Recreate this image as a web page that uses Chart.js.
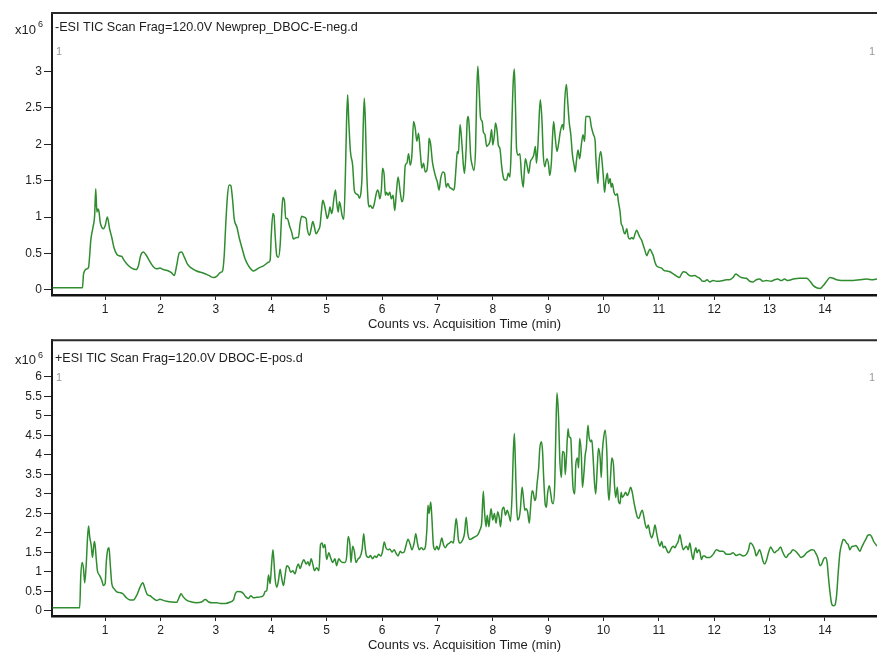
<!DOCTYPE html>
<html>
<head>
<meta charset="utf-8">
<script src="https://cdn.jsdelivr.net/npm/chart.js@4.4.1/dist/chart.umd.min.js"></script>
<style>
  html, body { margin: 0; padding: 0; background: #fff; overflow: hidden; }
  canvas { position: absolute; left: 0; display: block; }
  #neg { top: 0; }
  #pos { top: 331px; }
</style>
</head>
<body>
<canvas id="neg" width="877" height="331"></canvas>
<canvas id="pos" width="877" height="321"></canvas>
<script>
// Retention time (min) and TIC counts (x10^6) for the negative-mode run
const negTime = [
  0.05, 0.59, 0.61, 0.67, 0.70, 0.72, 0.74, 0.78, 0.81, 0.83, 0.85, 0.87, 0.89, 0.91, 0.94, 0.97,
  1.00, 1.04, 1.08, 1.12, 1.16, 1.21, 1.25, 1.30, 1.34, 1.40, 1.48, 1.56, 1.60, 1.64, 1.69, 1.74,
  1.80, 1.87, 1.93, 1.99, 2.05, 2.11, 2.19, 2.25, 2.29, 2.34, 2.38, 2.43, 2.49, 2.56, 2.65, 2.78,
  2.87, 2.96, 3.02, 3.08, 3.12, 3.15, 3.18, 3.21, 3.24, 3.27, 3.30, 3.33, 3.38, 3.42, 3.47, 3.53,
  3.59, 3.68, 3.77, 3.86, 3.95, 3.98, 4.00, 4.03, 4.05, 4.07, 4.10, 4.13, 4.16, 4.19, 4.21, 4.24,
  4.26, 4.29, 4.33, 4.37, 4.40, 4.46, 4.49, 4.52, 4.55, 4.59, 4.63, 4.65, 4.69, 4.72, 4.75, 4.78,
  4.81, 4.85, 4.88, 4.91, 4.93, 4.96, 4.99, 5.01, 5.04, 5.06, 5.09, 5.11, 5.13, 5.16, 5.18, 5.21,
  5.23, 5.25, 5.28, 5.31, 5.34, 5.36, 5.38, 5.40, 5.43, 5.47, 5.50, 5.53, 5.57, 5.59, 5.62, 5.64,
  5.66, 5.68, 5.70, 5.72, 5.75, 5.77, 5.79, 5.83, 5.86, 5.89, 5.92, 5.94, 5.96, 5.99, 6.01, 6.04,
  6.06, 6.08, 6.11, 6.14, 6.17, 6.20, 6.23, 6.26, 6.29, 6.33, 6.36, 6.39, 6.42, 6.45, 6.48, 6.51,
  6.54, 6.57, 6.60, 6.63, 6.66, 6.69, 6.72, 6.75, 6.78, 6.81, 6.84, 6.85, 6.88, 6.91, 6.94, 6.97,
  7.00, 7.03, 7.06, 7.10, 7.13, 7.16, 7.19, 7.22, 7.26, 7.29, 7.31, 7.34, 7.36, 7.38, 7.41, 7.44,
  7.47, 7.49, 7.52, 7.54, 7.56, 7.58, 7.60, 7.63, 7.66, 7.69, 7.71, 7.73, 7.75, 7.78, 7.81, 7.83,
  7.86, 7.89, 7.92, 7.95, 7.98, 8.00, 8.03, 8.05, 8.08, 8.10, 8.13, 8.16, 8.19, 8.22, 8.25, 8.28,
  8.31, 8.33, 8.35, 8.37, 8.39, 8.41, 8.43, 8.46, 8.49, 8.52, 8.55, 8.57, 8.59, 8.62, 8.65, 8.68,
  8.71, 8.74, 8.77, 8.79, 8.82, 8.84, 8.86, 8.89, 8.91, 8.94, 8.96, 8.98, 9.01, 9.03, 9.06, 9.08,
  9.10, 9.13, 9.16, 9.19, 9.22, 9.26, 9.28, 9.30, 9.33, 9.35, 9.38, 9.41, 9.44, 9.47, 9.49, 9.51,
  9.54, 9.57, 9.60, 9.63, 9.66, 9.68, 9.71, 9.73, 9.75, 9.78, 9.82, 9.85, 9.86, 9.88, 9.90, 9.92,
  9.95, 9.97, 10.00, 10.02, 10.04, 10.07, 10.09, 10.12, 10.14, 10.16, 10.19, 10.22, 10.25, 10.27, 10.30, 10.32,
  10.34, 10.37, 10.39, 10.42, 10.45, 10.48, 10.51, 10.54, 10.57, 10.60, 10.63, 10.66, 10.69, 10.72, 10.75, 10.78,
  10.81, 10.84, 10.87, 10.90, 10.93, 10.96, 11.01, 11.05, 11.09, 11.14, 11.20, 11.26, 11.32, 11.37, 11.41, 11.44,
  11.49, 11.53, 11.59, 11.65, 11.69, 11.74, 11.79, 11.83, 11.87, 11.92, 11.98, 12.04, 12.10, 12.16, 12.22, 12.28,
  12.34, 12.39, 12.43, 12.49, 12.58, 12.64, 12.70, 12.76, 12.82, 12.88, 12.94, 13.03, 13.09, 13.15, 13.21, 13.27,
  13.33, 13.43, 13.54, 13.67, 13.73, 13.79, 13.85, 13.91, 13.97, 14.03, 14.09, 14.15, 14.21, 14.30, 14.39, 14.51,
  14.63, 14.75, 14.87, 14.94
];
const negCounts = [
  0.03, 0.03, 0.22, 0.29, 0.31, 0.47, 0.68, 0.86, 1.02, 1.39, 1.07, 1.11, 1.07, 0.93, 0.86, 0.84,
  0.88, 1.00, 0.84, 0.72, 0.58, 0.49, 0.47, 0.46, 0.41, 0.35, 0.30, 0.28, 0.33, 0.47, 0.52, 0.48,
  0.40, 0.32, 0.29, 0.30, 0.28, 0.27, 0.24, 0.20, 0.33, 0.51, 0.52, 0.45, 0.35, 0.30, 0.26, 0.23,
  0.20, 0.17, 0.19, 0.24, 0.26, 0.47, 0.93, 1.30, 1.44, 1.43, 1.25, 0.98, 0.86, 0.72, 0.58, 0.42,
  0.33, 0.26, 0.30, 0.33, 0.38, 0.41, 0.75, 1.05, 1.02, 0.75, 0.47, 0.45, 0.61, 1.07, 1.27, 1.21,
  0.98, 0.98, 0.88, 0.79, 0.70, 0.72, 0.72, 0.91, 1.01, 1.00, 0.98, 0.84, 0.75, 0.84, 0.94, 0.86,
  0.77, 0.82, 0.88, 1.11, 1.23, 1.17, 1.05, 0.98, 1.05, 1.14, 1.05, 1.11, 1.25, 1.37, 1.21, 1.07,
  1.21, 1.16, 1.02, 0.97, 1.62, 2.31, 2.68, 2.31, 1.90, 1.71, 1.37, 1.32, 1.30, 1.26, 1.34, 1.57,
  2.22, 2.63, 2.31, 1.71, 1.21, 1.14, 1.16, 1.12, 1.18, 1.30, 1.37, 1.34, 1.25, 1.39, 1.67, 1.57,
  1.30, 1.34, 1.30, 1.34, 1.25, 1.30, 1.09, 1.34, 1.55, 1.34, 1.21, 1.30, 1.71, 1.74, 1.87, 1.71,
  1.85, 2.31, 2.22, 2.04, 2.15, 1.90, 1.67, 1.74, 1.62, 1.64, 1.90, 2.08, 1.99, 1.76, 1.64, 1.55,
  1.48, 1.37, 1.53, 1.62, 1.60, 1.41, 1.46, 1.41, 1.39, 1.37, 1.41, 1.71, 1.90, 1.87, 2.27, 2.04,
  1.71, 1.60, 1.94, 2.33, 2.38, 2.17, 1.85, 1.71, 1.64, 1.94, 2.68, 3.07, 2.82, 2.36, 2.31, 2.17,
  2.13, 1.97, 1.99, 2.04, 2.20, 1.99, 2.13, 2.29, 2.17, 1.99, 1.94, 1.71, 1.55, 1.51, 1.51, 1.60,
  1.55, 1.85, 2.40, 2.86, 3.03, 2.54, 1.94, 1.85, 1.87, 1.57, 1.41, 1.62, 1.80, 1.71, 1.60, 1.76,
  1.80, 1.85, 1.97, 1.74, 2.04, 2.40, 2.61, 2.31, 1.90, 1.69, 1.76, 1.80, 1.71, 1.57, 1.76, 2.10,
  2.31, 2.08, 1.90, 2.01, 2.17, 2.27, 2.20, 2.59, 2.82, 2.63, 2.31, 2.13, 1.85, 1.71, 1.62, 1.76,
  1.92, 1.80, 1.99, 2.13, 2.04, 2.38, 2.38, 2.38, 2.38, 2.24, 2.13, 2.04, 1.85, 1.62, 1.46, 1.76,
  1.90, 1.80, 1.53, 1.34, 1.48, 1.60, 1.46, 1.53, 1.41, 1.46, 1.34, 1.30, 1.32, 1.21, 1.07, 0.91,
  0.88, 0.79, 0.77, 0.84, 0.72, 0.70, 0.72, 0.70, 0.77, 0.82, 0.77, 0.72, 0.68, 0.61, 0.54, 0.47,
  0.52, 0.56, 0.52, 0.47, 0.38, 0.33, 0.31, 0.30, 0.27, 0.26, 0.25, 0.22, 0.19, 0.17, 0.22, 0.25,
  0.24, 0.21, 0.19, 0.20, 0.18, 0.16, 0.12, 0.12, 0.14, 0.11, 0.13, 0.12, 0.12, 0.13, 0.14, 0.14,
  0.17, 0.22, 0.20, 0.17, 0.16, 0.12, 0.11, 0.14, 0.15, 0.12, 0.13, 0.12, 0.14, 0.15, 0.13, 0.15,
  0.13, 0.15, 0.16, 0.16, 0.12, 0.06, 0.03, 0.02, 0.06, 0.12, 0.17, 0.16, 0.14, 0.13, 0.13, 0.13,
  0.14, 0.15, 0.14, 0.15
];

// Retention time (min) and TIC counts (x10^6) for the positive-mode run
const posTime = [
  0.05, 0.54, 0.56, 0.585, 0.61, 0.63, 0.66, 0.68, 0.70, 0.72, 0.75, 0.77, 0.80, 0.81, 0.84, 0.86,
  0.90, 0.94, 0.97, 1.00, 1.02, 1.05, 1.07, 1.09, 1.12, 1.16, 1.21, 1.27, 1.32, 1.38, 1.45, 1.51,
  1.57, 1.63, 1.68, 1.72, 1.76, 1.81, 1.87, 1.93, 1.99, 2.05, 2.11, 2.20, 2.29, 2.34, 2.37, 2.41,
  2.47, 2.56, 2.65, 2.74, 2.81, 2.87, 2.94, 3.02, 3.08, 3.17, 3.26, 3.32, 3.35, 3.39, 3.45, 3.50,
  3.54, 3.59, 3.63, 3.68, 3.74, 3.80, 3.86, 3.89, 3.92, 3.95, 3.98, 4.00, 4.03, 4.05, 4.07, 4.10,
  4.13, 4.16, 4.18, 4.22, 4.25, 4.28, 4.32, 4.35, 4.39, 4.43, 4.46, 4.49, 4.52, 4.56, 4.59, 4.63,
  4.66, 4.69, 4.72, 4.75, 4.78, 4.82, 4.86, 4.89, 4.92, 4.94, 4.97, 5.00, 5.04, 5.07, 5.11, 5.15,
  5.18, 5.22, 5.25, 5.29, 5.33, 5.36, 5.39, 5.42, 5.44, 5.47, 5.50, 5.53, 5.57, 5.60, 5.64, 5.67,
  5.69, 5.72, 5.76, 5.79, 5.83, 5.87, 5.90, 5.94, 5.98, 6.01, 6.04, 6.07, 6.11, 6.14, 6.18, 6.22,
  6.25, 6.29, 6.33, 6.36, 6.40, 6.43, 6.47, 6.51, 6.54, 6.58, 6.61, 6.64, 6.67, 6.71, 6.75, 6.78,
  6.81, 6.83, 6.85, 6.88, 6.90, 6.93, 6.96, 6.99, 7.02, 7.05, 7.08, 7.11, 7.14, 7.18, 7.22, 7.25,
  7.29, 7.31, 7.34, 7.36, 7.38, 7.41, 7.46, 7.49, 7.52, 7.55, 7.59, 7.64, 7.69, 7.73, 7.77, 7.80,
  7.83, 7.85, 7.88, 7.90, 7.93, 7.95, 7.97, 8.00, 8.03, 8.06, 8.09, 8.12, 8.14, 8.17, 8.20, 8.23,
  8.26, 8.30, 8.32, 8.35, 8.37, 8.39, 8.41, 8.43, 8.45, 8.48, 8.50, 8.53, 8.55, 8.58, 8.60, 8.63,
  8.66, 8.68, 8.71, 8.73, 8.76, 8.78, 8.80, 8.83, 8.85, 8.88, 8.90, 8.92, 8.95, 8.97, 8.99, 9.02,
  9.04, 9.07, 9.09, 9.12, 9.14, 9.16, 9.19, 9.21, 9.24, 9.26, 9.29, 9.31, 9.33, 9.36, 9.38, 9.41,
  9.43, 9.45, 9.48, 9.50, 9.53, 9.55, 9.57, 9.60, 9.62, 9.65, 9.67, 9.69, 9.72, 9.74, 9.77, 9.79,
  9.81, 9.84, 9.86, 9.89, 9.91, 9.94, 9.96, 9.98, 10.01, 10.03, 10.06, 10.08, 10.10, 10.13, 10.15, 10.18,
  10.20, 10.22, 10.25, 10.27, 10.30, 10.32, 10.34, 10.37, 10.40, 10.43, 10.46, 10.49, 10.52, 10.55, 10.58, 10.61,
  10.64, 10.67, 10.70, 10.73, 10.75, 10.78, 10.81, 10.84, 10.87, 10.90, 10.93, 10.96, 10.99, 11.02, 11.05, 11.08,
  11.11, 11.14, 11.17, 11.20, 11.23, 11.26, 11.29, 11.32, 11.35, 11.38, 11.41, 11.44, 11.47, 11.50, 11.53, 11.56,
  11.59, 11.62, 11.64, 11.67, 11.69, 11.72, 11.74, 11.77, 11.80, 11.83, 11.86, 11.92, 11.98, 12.04, 12.10, 12.16,
  12.22, 12.28, 12.34, 12.40, 12.46, 12.52, 12.58, 12.62, 12.65, 12.69, 12.73, 12.76, 12.79, 12.82, 12.85, 12.88,
  12.91, 12.94, 12.98, 13.02, 13.05, 13.09, 13.12, 13.16, 13.20, 13.23, 13.27, 13.30, 13.34, 13.38, 13.42, 13.47,
  13.52, 13.57, 13.62, 13.67, 13.71, 13.76, 13.80, 13.83, 13.87, 13.91, 13.94, 13.98, 14.01, 14.04, 14.06, 14.09,
  14.12, 14.15, 14.18, 14.21, 14.24, 14.27, 14.30, 14.33, 14.36, 14.39, 14.42, 14.45, 14.48, 14.52, 14.56, 14.59,
  14.63, 14.66, 14.70, 14.74, 14.77, 14.81, 14.84, 14.88, 14.92, 14.94
];
const posCounts = [
  0.08, 0.08, 0.91, 1.24, 1.07, 0.72, 1.24, 1.83, 2.18, 1.91, 1.66, 1.37, 1.74, 1.78, 1.32, 1.03,
  0.91, 0.78, 0.65, 0.70, 1.24, 1.59, 1.62, 1.24, 0.70, 0.57, 0.49, 0.47, 0.44, 0.34, 0.28, 0.28,
  0.40, 0.61, 0.72, 0.57, 0.42, 0.39, 0.32, 0.27, 0.30, 0.27, 0.25, 0.23, 0.22, 0.36, 0.44, 0.36,
  0.28, 0.23, 0.21, 0.23, 0.29, 0.23, 0.21, 0.21, 0.19, 0.19, 0.23, 0.29, 0.44, 0.50, 0.49, 0.44,
  0.36, 0.32, 0.39, 0.34, 0.35, 0.36, 0.40, 0.50, 0.53, 0.92, 0.70, 1.07, 1.57, 1.24, 0.82, 0.61,
  0.78, 1.07, 0.91, 0.65, 0.91, 1.16, 1.11, 0.99, 1.03, 0.95, 1.11, 1.20, 1.09, 1.24, 1.31, 1.20,
  1.26, 1.16, 1.34, 1.20, 1.03, 1.11, 1.03, 1.70, 1.74, 1.62, 1.70, 1.32, 1.49, 1.37, 1.24, 1.34,
  1.16, 1.34, 1.28, 1.24, 1.24, 1.37, 1.91, 1.70, 1.24, 1.66, 1.53, 1.24, 1.34, 1.37, 1.57, 1.98,
  1.70, 1.41, 1.37, 1.42, 1.34, 1.41, 1.37, 1.45, 1.41, 1.53, 1.77, 1.62, 1.57, 1.59, 1.51, 1.57,
  1.49, 1.41, 1.53, 1.49, 1.51, 1.66, 1.84, 1.70, 1.57, 1.74, 1.98, 1.74, 1.57, 1.62, 1.57, 1.62,
  2.08, 2.71, 2.50, 2.79, 2.41, 1.66, 1.57, 1.66, 1.57, 1.70, 1.87, 1.70, 1.62, 1.70, 1.74, 1.78,
  1.74, 1.99, 2.37, 2.16, 1.83, 1.74, 1.83, 1.99, 2.40, 1.99, 1.83, 1.87, 1.91, 1.95, 2.08, 2.25,
  3.07, 2.58, 2.16, 2.45, 2.16, 2.41, 2.62, 2.33, 2.50, 2.25, 2.54, 2.37, 2.16, 2.58, 2.66, 2.45,
  2.58, 2.41, 2.29, 3.00, 4.00, 4.55, 3.75, 2.75, 2.33, 2.41, 2.62, 3.17, 2.96, 2.58, 2.62, 2.54,
  2.25, 2.58, 3.08, 3.04, 2.83, 2.91, 3.25, 3.67, 4.17, 4.34, 4.09, 3.42, 2.71, 2.66, 3.00, 3.21,
  3.08, 2.79, 2.75, 3.25, 4.59, 5.59, 4.93, 3.92, 3.42, 4.09, 4.05, 3.50, 3.92, 4.67, 4.46, 4.42,
  3.75, 3.17, 3.00, 3.75, 3.92, 3.67, 4.42, 4.00, 3.17, 3.59, 4.00, 4.17, 4.76, 4.46, 4.34, 4.38,
  4.00, 3.25, 3.00, 3.75, 4.17, 3.92, 3.42, 4.09, 4.51, 4.63, 4.09, 3.17, 2.83, 3.50, 3.92, 3.75,
  3.21, 2.91, 3.17, 2.83, 2.75, 3.04, 2.91, 2.96, 3.04, 2.96, 3.04, 3.17, 3.04, 2.79, 2.58, 2.41,
  2.37, 2.50, 2.58, 2.41, 2.25, 2.12, 2.20, 1.99, 1.87, 1.99, 2.20, 1.99, 1.78, 1.66, 1.78, 1.62,
  1.66, 1.57, 1.49, 1.53, 1.62, 1.66, 1.62, 1.70, 1.78, 1.95, 1.74, 1.57, 1.62, 1.66, 1.57, 1.74,
  1.49, 1.32, 1.49, 1.62, 1.49, 1.57, 1.53, 1.32, 1.41, 1.41, 1.37, 1.37, 1.45, 1.57, 1.53, 1.53,
  1.45, 1.45, 1.49, 1.42, 1.45, 1.41, 1.45, 1.57, 1.74, 1.70, 1.57, 1.41, 1.49, 1.57, 1.45, 1.28,
  1.20, 1.28, 1.49, 1.64, 1.57, 1.49, 1.53, 1.57, 1.64, 1.53, 1.41, 1.37, 1.45, 1.49, 1.57, 1.53,
  1.45, 1.37, 1.41, 1.49, 1.53, 1.57, 1.56, 1.49, 1.37, 1.16, 1.20, 1.34, 1.37, 1.24, 0.91, 0.49,
  0.19, 0.13, 0.15, 0.40, 0.99, 1.49, 1.70, 1.83, 1.81, 1.74, 1.70, 1.57, 1.64, 1.66, 1.68, 1.62,
  1.53, 1.62, 1.74, 1.84, 1.93, 1.95, 1.91, 1.78, 1.70, 1.66
];

// Axis tick values
const timeTicks = [1, 2, 3, 4, 5, 6, 7, 8, 9, 10, 11, 12, 13, 14];
const negTicks = [0, 0.5, 1, 1.5, 2, 2.5, 3];
const posTicks = [0, 0.5, 1, 1.5, 2, 2.5, 3, 3.5, 4, 4.5, 5, 5.5, 6];

const FONT = '"Liberation Sans", Arial, sans-serif';
Chart.defaults.font.family = FONT;
Chart.defaults.font.size = 12;
Chart.defaults.color = '#1e1e1e';

// Panel decorations: box top edge, run label, exponent and trace numbers
const panelText = {
  id: 'panelText',
  afterDraw(chart, args, o) {
    const { ctx, chartArea: a } = chart;
    ctx.save();
    ctx.strokeStyle = '#2a2a2a';
    ctx.lineWidth = 2;
    ctx.beginPath();
    ctx.moveTo(a.left - 1, a.top);
    ctx.lineTo(chart.width, a.top);
    ctx.stroke();

    ctx.textBaseline = 'middle';
    ctx.fillStyle = '#1e1e1e';
    ctx.font = '12.6px ' + FONT;
    ctx.textAlign = 'left';
    ctx.fillText(o.title, a.left + 3, a.top + o.titleDy);

    ctx.font = '13px ' + FONT;
    ctx.textAlign = 'right';
    ctx.fillText('x10', 36, a.top + o.titleDy + 2);
    ctx.font = '9px ' + FONT;
    ctx.textAlign = 'left';
    ctx.fillText('6', 38, a.top + o.titleDy - 3);

    ctx.fillStyle = '#9a9a9a';
    ctx.font = '11px ' + FONT;
    ctx.fillText('1', a.left + 4, a.top + o.traceDy);
    ctx.textAlign = 'right';
    ctx.fillText('1', chart.width - 2, a.top + o.traceDy);
    ctx.restore();
  }
};

function makeChart(id, times, counts, yTicks, yMin, yMax, topPad, title, titleDy, traceDy) {
  const points = times.map((t, i) => ({ x: t, y: counts[i] }));
  return new Chart(document.getElementById(id), {
    type: 'line',
    data: {
      datasets: [{
        data: points,
        borderColor: '#2f8c2f',
        borderWidth: 1.5,
        pointRadius: 0,
        cubicInterpolationMode: 'monotone',
        fill: false
      }]
    },
    options: {
      responsive: false,
      animation: false,
      devicePixelRatio: 1,
      layout: { padding: { top: topPad, left: 0, right: 0, bottom: 0 } },
      plugins: {
        legend: { display: false },
        tooltip: { enabled: false },
        panelText: { title, titleDy, traceDy }
      },
      scales: {
        x: {
          type: 'linear',
          min: 0.04,
          max: 14.94,
          afterFit(s) { s.height = 36; },
          afterBuildTicks(s) { s.ticks = timeTicks.map(v => ({ value: v })); },
          ticks: { autoSkip: false, maxRotation: 0, padding: 2, callback: v => String(v) },
          grid: { display: true, drawOnChartArea: false, drawTicks: true, tickLength: 5, color: '#222', lineWidth: 1 },
          border: { display: true, color: '#111', width: 2.5 },
          title: {
            display: true,
            text: 'Counts vs. Acquisition Time (min)',
            padding: 0,
            font: { size: 13, lineHeight: 1 }
          }
        },
        y: {
          type: 'linear',
          min: yMin,
          max: yMax,
          afterFit(s) { s.width = 52; },
          afterBuildTicks(s) { s.ticks = yTicks.map(v => ({ value: v })); },
          ticks: { autoSkip: false, padding: 2, callback: v => String(v) },
          grid: { display: true, drawOnChartArea: false, drawTicks: true, tickLength: 8, color: '#222', lineWidth: 1 },
          border: { display: true, color: '#1a1a1a', width: 2 }
        }
      }
    },
    plugins: [panelText]
  });
}

makeChart('neg', negTime, negCounts, negTicks, -0.069, 3.80, 13,
  '-ESI TIC Scan Frag=120.0V Newprep_DBOC-E-neg.d', 15, 39);
makeChart('pos', posTime, posCounts, posTicks, -0.13, 6.94, 4,
  '+ESI TIC Scan Frag=120.0V DBOC-E-pos.d', 18, 37.5);
</script>
</body>
</html>
